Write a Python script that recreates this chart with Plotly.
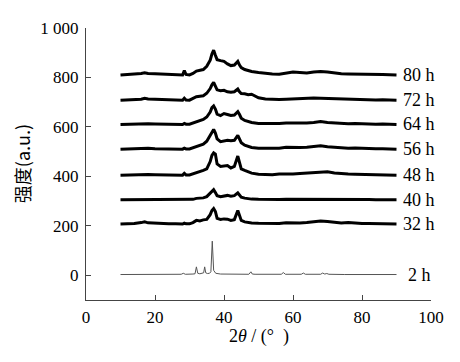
import plotly.graph_objects as go

# 2-theta grid shared by the broad (milled) patterns
two_theta = [10, 12, 14, 16, 17, 18, 20, 22, 24, 26,
             28, 28.5, 29, 30, 31, 32, 33, 34, 35, 36,
             36.5, 37, 37.5, 38, 39, 40, 41, 42, 43, 44,
             44.5, 45, 46, 47, 48, 50, 52, 54, 56, 58,
             60, 62, 64, 66, 68, 70, 72, 74, 76, 78,
             80, 82, 84, 86, 88, 90]

i_80h = [810, 811, 812, 816, 819, 816, 815, 814, 812, 811,
         810, 828, 812, 810, 816, 826, 830, 832, 845, 870,
         895, 910, 890, 872, 868, 865, 855, 848, 850, 865,
         850, 840, 832, 828, 824, 820, 816, 814, 813, 816,
         822, 820, 818, 822, 824, 822, 818, 815, 814, 813,
         812, 812, 811, 812, 811, 810]
i_72h = [708, 709, 708, 712, 716, 713, 712, 711, 710, 709,
         708, 716, 709, 708, 714, 722, 724, 726, 736, 755,
         770, 780, 765, 750, 746, 748, 742, 740, 742, 753,
         742, 735, 734, 730, 732, 718, 713, 711, 711, 712,
         714, 715, 716, 717, 716, 715, 713, 712, 711, 711,
         710, 710, 709, 710, 709, 708]
i_64h = [610, 611, 611, 613, 615, 613, 612, 612, 611, 611,
         610, 614, 611, 611, 616, 622, 624, 630, 640, 660,
         678, 685, 672, 652, 646, 654, 650, 646, 648, 662,
         650, 635, 626, 622, 618, 614, 613, 612, 614, 616,
         615, 617, 616, 618, 622, 618, 616, 614, 613, 614,
         612, 612, 611, 612, 611, 610]
i_56h = [510, 511, 513, 514, 516, 514, 512, 512, 511, 511,
         510, 514, 511, 511, 515, 522, 523, 530, 542, 565,
         582, 590, 575, 552, 540, 542, 546, 544, 546, 566,
         552, 536, 526, 521, 517, 514, 513, 512, 514, 518,
         516, 517, 518, 520, 524, 520, 517, 515, 514, 515,
         513, 512, 512, 512, 511, 510]
i_48h = [405, 406, 407, 408, 410, 408, 407, 407, 406, 406,
         405, 412, 406, 406, 410, 416, 418, 424, 430, 460,
         485, 495, 490, 450, 440, 442, 444, 434, 440, 482,
         455, 430, 424, 418, 413, 409, 408, 407, 410, 409,
         410, 412, 413, 415, 417, 419, 414, 411, 410, 409,
         408, 408, 407, 407, 406, 405]
i_40h = [305, 305, 306, 306, 307, 306, 306, 306, 305, 305,
         305, 308, 305, 305, 307, 311, 311, 313, 318, 332,
         342, 346, 335, 322, 318, 320, 323, 320, 322, 333,
         325, 316, 312, 309, 308, 307, 306, 306, 306, 307,
         307, 307, 308, 308, 309, 308, 307, 307, 306, 306,
         306, 306, 305, 306, 305, 305]
i_32h = [207, 207, 209, 213, 216, 212, 210, 210, 208, 208,
         207, 211, 208, 208, 213, 222, 220, 224, 226, 245,
         262, 270, 258, 230, 226, 228, 227, 222, 225, 262,
         240, 222, 216, 213, 211, 210, 209, 208, 209, 212,
         210, 211, 213, 215, 219, 217, 213, 211, 213, 210,
         209, 209, 208, 208, 208, 207]

# 2 h pattern (sharp crystalline peaks)
two_theta_2h = [10, 20, 27.6, 28.2, 28.8, 31.0, 31.6, 32.0, 32.4, 33.0,
                33.8, 34.1, 34.4, 34.7, 35.2, 35.8, 36.2, 36.6, 37.0, 37.6,
                39, 42, 47.2, 47.8, 48.2, 49, 56.6, 57.2, 57.8, 62.4,
                63.0, 63.6, 68.0, 68.6, 69.2, 69.8, 70.4, 75, 90]
i_2h = [3, 3, 4, 8, 4, 5, 6, 34, 8, 6,
        7, 10, 34, 10, 7, 8, 14, 138, 20, 8,
        5, 4, 4, 14, 5, 4, 4, 11, 4, 4,
        9, 4, 4, 9, 5, 7, 4, 3, 3]

labels = ["80 h", "72 h", "64 h", "56 h", "48 h", "40 h", "32 h"]
label_y = [810, 708, 610, 510, 405, 305, 207]
broad = [i_80h, i_72h, i_64h, i_56h, i_48h, i_40h, i_32h]

y_ticks = [0, 200, 400, 600, 800, 1000]
y_ticktext = ["0", "200", "400", "600", "800", "1 000"]
x_ticks = [0, 20, 40, 60, 80, 100]

FONT = "Liberation Serif"

fig = go.Figure()
for name, ys in zip(labels, broad):
    fig.add_trace(go.Scatter(x=two_theta, y=ys, mode="lines", name=name,
                             line=dict(color="black", width=3),
                             showlegend=False))
fig.add_trace(go.Scatter(x=two_theta_2h, y=i_2h, mode="lines", name="2 h",
                         line=dict(color="#555555", width=1),
                         showlegend=False))

for name, yv in zip(labels, label_y):
    fig.add_annotation(x=91.3, y=yv, text=name, showarrow=False,
                       xanchor="left", yanchor="middle",
                       font=dict(family=FONT, size=18, color="black"))
fig.add_annotation(x=92.8, y=3, text="2 h", showarrow=False,
                   xanchor="left", yanchor="middle",
                   font=dict(family=FONT, size=18, color="black"))

# axis titles
fig.add_annotation(xref="paper", yref="paper", x=0.5, y=-0.135,
                   text="2<i>θ</i> / (°  )", showarrow=False,
                   xanchor="center", yanchor="middle",
                   font=dict(family=FONT, size=18, color="black"))
fig.add_annotation(xref="paper", yref="paper", x=-0.185, y=0.5,
                   text="强度(a.u.)", showarrow=False, textangle=-90,
                   xanchor="center", yanchor="middle",
                   font=dict(family="Noto Sans CJK SC", size=18, color="black"))

fig.update_layout(
    width=452, height=354,
    margin=dict(l=78, r=29, t=11, b=62),
    paper_bgcolor="white", plot_bgcolor="white",
    font=dict(family=FONT, size=17, color="black"),
)
fig.update_xaxes(range=[0, 100], tickvals=x_ticks, ticks="inside", ticklen=5,
                 showline=True, linecolor="#444", linewidth=1, tickcolor="#444",
                 showgrid=False, zeroline=False, ticklabelstandoff=2,
                 tickfont=dict(family=FONT, size=17))
fig.update_yaxes(range=[-100, 1000], tickvals=y_ticks, ticktext=y_ticktext,
                 ticks="inside", ticklen=5,
                 showline=True, linecolor="#444", linewidth=1, tickcolor="#444",
                 showgrid=False, zeroline=False, ticklabelstandoff=3,
                 tickfont=dict(family=FONT, size=17))

fig.write_html("out.html")
